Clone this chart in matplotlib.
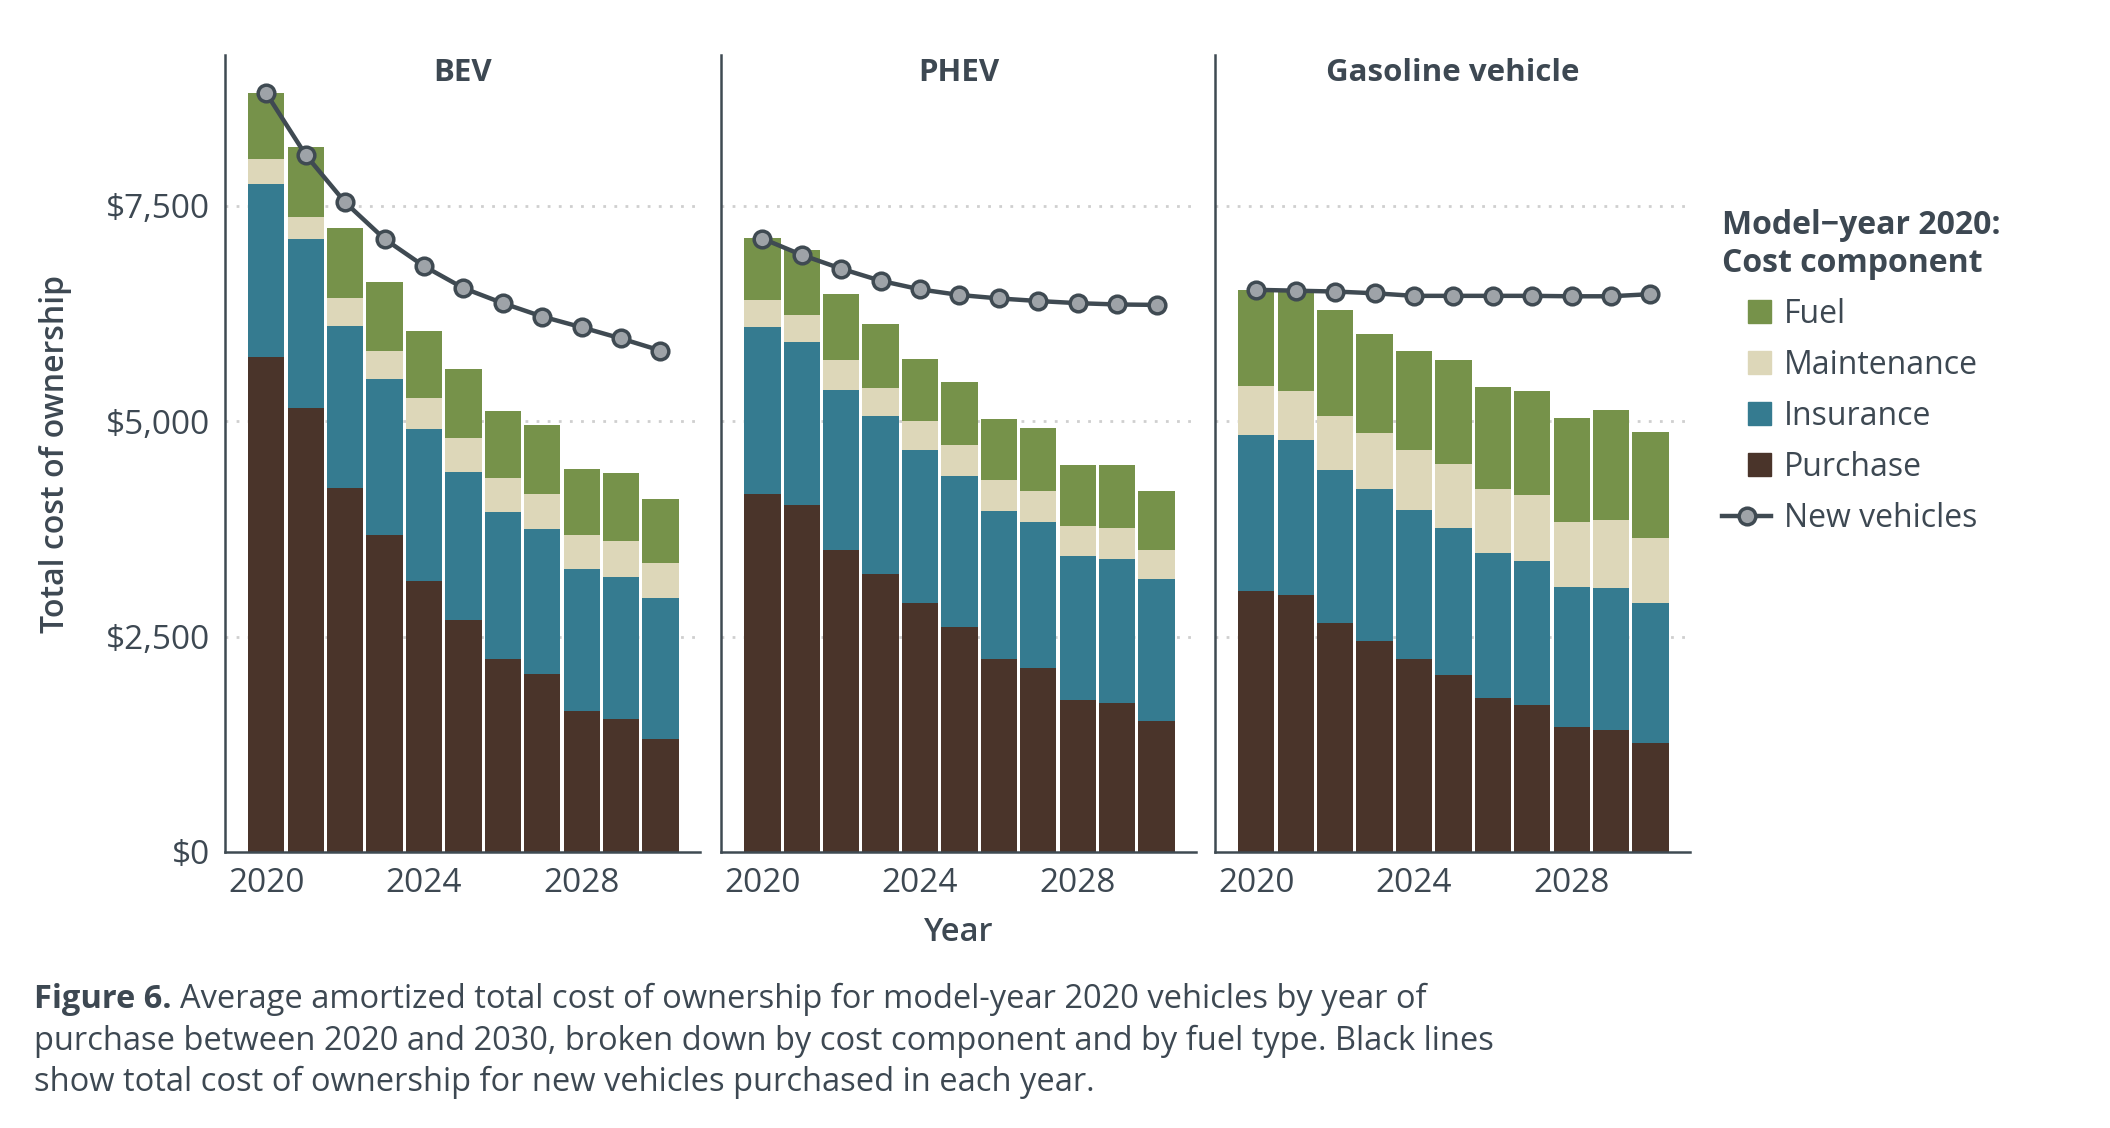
import matplotlib.pyplot as plt
from matplotlib.patches import Patch, Rectangle
from matplotlib.lines import Line2D
from matplotlib.legend_handler import HandlerPatch

plt.rcParams['font.family'] = ['Open Sans', 'DejaVu Sans']

years = list(range(2020, 2031))
panels = ['BEV', 'PHEV', 'Gasoline vehicle']

purchase = {
    'BEV': [5750, 5150, 4230, 3680, 3145, 2690, 2240, 2070, 1640, 1545, 1310],
    'PHEV': [4160, 4025, 3510, 3225, 2885, 2615, 2240, 2135, 1760, 1730, 1525],
    'Gasoline vehicle': [3025, 2980, 2660, 2445, 2240, 2055, 1790, 1710, 1445, 1415, 1265],
}
insurance = {
    'BEV': [2000, 1960, 1870, 1810, 1770, 1725, 1705, 1675, 1645, 1645, 1635],
    'PHEV': [1935, 1900, 1855, 1830, 1775, 1745, 1715, 1700, 1670, 1670, 1640],
    'Gasoline vehicle': [1820, 1805, 1770, 1765, 1725, 1700, 1675, 1670, 1625, 1650, 1620],
}
maintenance = {
    'BEV': [295, 265, 325, 330, 350, 385, 390, 405, 390, 415, 405],
    'PHEV': [315, 310, 345, 335, 345, 360, 360, 360, 355, 355, 340],
    'Gasoline vehicle': [565, 560, 635, 650, 695, 745, 745, 760, 765, 785, 760],
}
fuel = {
    'BEV': [765, 810, 815, 795, 785, 810, 780, 805, 765, 790, 745],
    'PHEV': [720, 755, 765, 740, 720, 740, 705, 730, 705, 735, 690],
    'Gasoline vehicle': [1115, 1165, 1220, 1155, 1160, 1210, 1190, 1210, 1205, 1275, 1235],
}
new_vehicles = {
    'BEV': [8805, 8090, 7540, 7115, 6800, 6545, 6370, 6215, 6090, 5960, 5820],
    'PHEV': [7120, 6930, 6770, 6630, 6530, 6465, 6425, 6395, 6370, 6355, 6350],
    'Gasoline vehicle': [6525, 6515, 6505, 6485, 6455, 6455, 6455, 6455, 6450, 6450, 6475],
}

yticks = [0, 2500, 5000, 7500]
ytick_labels = ['$0', '$2,500', '$5,000', '$7,500']
xticks = [2020, 2024, 2028]

c_fuel = '#76924a'
c_maint = '#ddd7b9'
c_ins = '#357b90'
c_purch = '#4a342a'
c_line = '#3f4a52'
c_marker = '#9ea3a8'
c_text = '#3d4852'

fig = plt.figure(figsize=(21.1, 11.28), dpi=100)
lefts = [0.1066, 0.3417, 0.5758]
width = 0.2251
bottom = 0.2447
height = 0.7065

for i, name in enumerate(panels):
    ax = fig.add_axes([lefts[i], bottom, width, height])
    p = purchase[name]
    ins = insurance[name]
    m = maintenance[name]
    f = fuel[name]
    b1 = p
    b2 = [a + b for a, b in zip(b1, ins)]
    b3 = [a + b for a, b in zip(b2, m)]
    w = 0.92
    ax.bar(years, p, width=w, color=c_purch, zorder=2)
    ax.bar(years, ins, bottom=b1, width=w, color=c_ins, zorder=2)
    ax.bar(years, m, bottom=b2, width=w, color=c_maint, zorder=2)
    ax.bar(years, f, bottom=b3, width=w, color=c_fuel, zorder=2)
    ax.plot(years, new_vehicles[name], color=c_line, lw=3.2, marker='o',
            ms=12, mfc=c_marker, mec=c_line, mew=2.5, zorder=4, clip_on=False)

    ax.set_xlim(2018.95, 2031.0)
    ax.set_ylim(0, 9250)
    for yv in yticks[1:]:
        ax.axhline(yv, color='#cfcfcf', lw=2, ls=(0, (1, 3)), zorder=1)
    ax.set_xticks(xticks)
    ax.set_xticklabels([str(x) for x in xticks], fontsize=24, color=c_text)
    ax.set_yticks(yticks)
    if i == 0:
        ax.set_yticklabels(ytick_labels, fontsize=24, color=c_text)
        ax.set_ylabel('Total cost of ownership', fontsize=23, color=c_text,
                      fontweight='semibold', labelpad=24)
    else:
        ax.set_yticklabels([])
    ax.tick_params(axis='both', length=0, pad=11)
    for s in ['top', 'right']:
        ax.spines[s].set_visible(False)
    for s in ['left', 'bottom']:
        ax.spines[s].set_color(c_line)
        ax.spines[s].set_linewidth(1.8)
    ax.text(0.5, 0.978, name, transform=ax.transAxes, ha='center', va='center',
            fontsize=22.5, fontweight='bold', color=c_text)
    if i == 1:
        ax.set_xlabel('Year', fontsize=23.5, fontweight='semibold', color=c_text,
                      labelpad=11)


def square(legend, orig_handle, xdescent, ydescent, width, height, fontsize):
    s = height * 1.1
    return Rectangle((-xdescent + width - s, -ydescent + (height - s) / 2), s, s)


handles = [Patch(color=c_fuel), Patch(color=c_maint), Patch(color=c_ins),
           Patch(color=c_purch),
           Line2D([], [], color=c_line, lw=3.2, marker='o', ms=12, mfc=c_marker,
                  mec=c_line, mew=2.5)]
labels = ['Fuel', 'Maintenance', 'Insurance', 'Purchase', 'New vehicles']
leg = fig.legend(handles, labels, loc='upper left', bbox_to_anchor=(0.816, 0.815),
                 frameon=False, fontsize=23, labelspacing=0.565, handlelength=1.55,
                 handleheight=0.65, handletextpad=0.4, borderpad=0, borderaxespad=0,
                 title='Model\u2212year 2020:\nCost component', alignment='left',
                 title_fontproperties={'size': 23, 'weight': 'bold'},
                 handler_map={Patch: HandlerPatch(patch_func=square)})
leg.get_title().set_color(c_text)
for t in leg.get_texts():
    t.set_color(c_text)

# caption with bold lead-in
renderer = fig.canvas.get_renderer()
cap_x = 34 / 2110
lead = fig.text(cap_x, 1 - 999 / 1128, 'Figure 6.', fontsize=23.5, fontweight='bold',
                color=c_text, va='center')
bb = lead.get_window_extent(renderer)
fig.text(bb.x1 / 2110 + 0.004, 1 - 999 / 1128,
         'Average amortized total cost of ownership for model-year 2020 vehicles by year of',
         fontsize=23.5, color=c_text, va='center')
fig.text(cap_x, 1 - 1041 / 1128,
         'purchase between 2020 and 2030, broken down by cost component and by fuel type. Black lines',
         fontsize=23.5, color=c_text, va='center')
fig.text(cap_x, 1 - 1082 / 1128,
         'show total cost of ownership for new vehicles purchased in each year.',
         fontsize=23.5, color=c_text, va='center')

fig.savefig('out.png', dpi=100, facecolor='white')
